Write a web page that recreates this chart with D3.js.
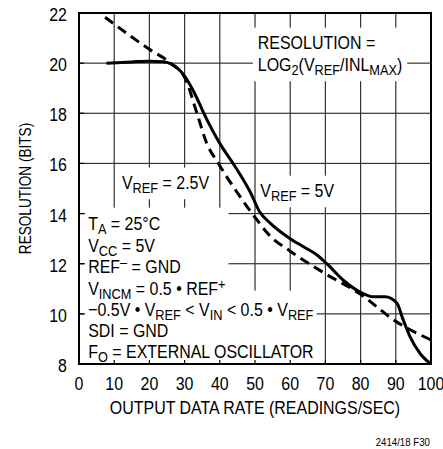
<!DOCTYPE html>
<html lang="en">
<head>
<meta charset="UTF-8">
<script src="https://d3js.org/d3.v7.min.js"></script>
</head>
<body style="margin:0">
<svg id="chart" width="443" height="449" font-family="Liberation Sans, Arial, sans-serif"></svg>
<script>
// solid curve (measured)
var solidRate = [7.8, 15, 20, 24, 26, 28, 30, 33, 35.3, 40, 44, 48.6, 51.4, 54.3, 60, 64, 67.5, 70.4, 75, 80, 83.6, 87, 90.3, 92, 94, 97, 100];
var solidBits = [20.0, 20.05, 20.08, 20.06, 19.98, 19.8, 19.48, 18.75, 18.05, 16.8, 15.95, 14.87, 14.05, 13.62, 13.0, 12.66, 12.36, 12.0, 11.35, 10.86, 10.68, 10.68, 10.43, 9.8, 9.1, 8.4, 8.0];
// dashed curve
var dashRate = [7.4, 20, 26, 30.3, 33.4, 36.3, 39.6, 44.8, 50, 54.3, 60, 70, 80, 90, 100];
var dashBits = [21.83, 20.55, 20.0, 19.35, 18.05, 16.8, 16.0, 14.87, 13.85, 13.1, 12.5, 11.6, 10.78, 9.7, 8.96];

var xTicks = [0, 10, 20, 30, 40, 50, 60, 70, 80, 90, 100];
var yTicks = [8, 10, 12, 14, 16, 18, 20, 22];

var margin = {top: 13, right: 12, bottom: 85, left: 79};
var width = 443 - margin.left - margin.right;
var height = 449 - margin.top - margin.bottom;
var narrow = 0.84;

var svg = d3.select("#chart");
var g = svg.append("g").attr("transform", "translate(" + margin.left + "," + margin.top + ")");

var x = d3.scaleLinear().domain([0, 100]).range([0, width]);
var y = d3.scaleLinear().domain([8, 22]).range([height, 0]);

// condensed text placed at px,py
function label(sel, px, py, size, sx) {
    return sel.append("text")
        .attr("transform", "translate(" + px + "," + py + ") scale(" + (sx || narrow) + ",1)")
        .attr("font-size", size);
}

// rich text helper: parts are [text, "sub"|"sup"|""]
function richText(sel, parts) {
    var shift = 0;
    parts.forEach(function (p) {
        var target = p[1] === "sub" ? 4 : p[1] === "sup" ? -6 : 0;
        var ts = sel.append("tspan").attr("dy", target - shift).text(p[0]);
        if (p[1]) ts.attr("font-size", "0.8em");
        shift = target;
    });
}

var textLayer = g.append("g");
var boxes = [];

// block of lines; its box keeps the grid away
function block(px, py, lines, step, pad) {
    var x0 = Infinity, y0 = Infinity, x1 = -Infinity, y1 = -Infinity;
    lines.forEach(function (parts, i) {
        var t = label(textLayer, px, py + i * step, 19);
        richText(t, parts);
        var b = t.node().getBBox();
        x0 = Math.min(x0, px);
        x1 = Math.max(x1, px + b.width * narrow);
        y0 = Math.min(y0, py + i * step + b.y);
        y1 = Math.max(y1, py + i * step + b.y + b.height);
    });
    boxes.push({
        x0: Math.max(0, x0 - pad[0]), x1: Math.min(width, x1 + pad[0]),
        y0: Math.max(0, y0 - pad[1]), y1: Math.min(height, y1 + pad[2])
    });
}

block(x(50.8), 36, [
    [["RESOLUTION =", ""]],
    [["LOG", ""], ["2", "sub"], ["(V", ""], ["REF", "sub"], ["/INL", ""], ["MAX", "sub"], [")", ""]]
], 22, [5, 4, 3]);

block(x(12.2), 176, [[["V", ""], ["REF", "sub"], [" = 2.5V", ""]]], 22, [4, 4, 3]);
block(x(51.5), 184, [[["V", ""], ["REF", "sub"], [" = 5V", ""]]], 22, [4, 4, 3]);

block(x(2.6), 217, [
    [["T", ""], ["A", "sub"], [" = 25°C", ""]],
    [["V", ""], ["CC", "sub"], [" = 5V", ""]],
    [["REF", ""], ["\u2013", "sup"], [" = GND", ""]],
    [["V", ""], ["INCM", "sub"], [" = 0.5 \u2022 REF", ""], ["+", "sup"]]
], 21.5, [3, 5, 3]);

block(x(2.6), 303, [
    [["\u22120.5V \u2022 V", ""], ["REF", "sub"], [" < V", ""], ["IN", "sub"], [" < 0.5 \u2022 V", ""], ["REF", "sub"]],
    [["SDI = GND", ""]],
    [["F", ""], ["O", "sub"], [" = EXTERNAL OSCILLATOR", ""]]
], 21, [3, 8, 3]);

// grid, broken where the text boxes sit; thin filled rects
function gaps(lo, hi, cuts) {
    var segs = [], cur = lo;
    cuts.sort(function (a, b) { return a[0] - b[0]; }).forEach(function (c) {
        if (c[0] > cur) segs.push([cur, c[0]]);
        cur = Math.max(cur, c[1]);
    });
    if (cur < hi) segs.push([cur, hi]);
    return segs;
}
var gridRects = [];
xTicks.slice(1, -1).forEach(function (d) {
    var X = x(d);
    var cuts = boxes.filter(function (b) { return b.x0 <= X && X <= b.x1; })
        .map(function (b) { return [b.y0, b.y1]; });
    gaps(0, height, cuts).forEach(function (s) { gridRects.push([X - 0.6, s[0], 1.2, s[1] - s[0]]); });
});
yTicks.slice(1, -1).forEach(function (d) {
    var Y = y(d);
    var cuts = boxes.filter(function (b) { return b.y0 <= Y && Y <= b.y1; })
        .map(function (b) { return [b.x0, b.x1]; });
    gaps(0, width, cuts).forEach(function (s) { gridRects.push([s[0], Y - 0.6, s[1] - s[0], 1.2]); });
});
g.append("g").selectAll("rect").data(gridRects).enter().append("rect")
    .attr("x", function (d) { return d[0]; }).attr("y", function (d) { return d[1]; })
    .attr("width", function (d) { return d[2]; }).attr("height", function (d) { return d[3]; })
    .attr("fill", "#333");

// inner ticks
g.append("g").selectAll("line").data(yTicks).enter().append("line")
    .attr("x1", 0).attr("x2", 5)
    .attr("y1", function (d) { return y(d); }).attr("y2", function (d) { return y(d); })
    .attr("stroke", "#000").attr("stroke-width", 1.2);
g.append("g").selectAll("line").data(xTicks).enter().append("line")
    .attr("x1", function (d) { return x(d); }).attr("x2", function (d) { return x(d); })
    .attr("y1", height).attr("y2", height - 4)
    .attr("stroke", "#000").attr("stroke-width", 1.2);

// curves
var line = d3.line()
    .x(function (d) { return x(d[0]); })
    .y(function (d) { return y(d[1]); })
    .curve(d3.curveMonotoneX);

g.append("path").datum(d3.zip(dashRate, dashBits))
    .attr("d", line).attr("fill", "none")
    .attr("stroke", "#000").attr("stroke-width", 3).attr("stroke-dasharray", "10,6");
g.append("path").datum(d3.zip(solidRate, solidBits))
    .attr("d", line).attr("fill", "none")
    .attr("stroke", "#000").attr("stroke-width", 3);

// frame
g.append("rect").attr("width", width).attr("height", height)
    .attr("fill", "none").attr("stroke", "#000").attr("stroke-width", 2);

// tick labels
yTicks.forEach(function (d) {
    label(g, -12, y(d) + 8, 19).attr("text-anchor", "end").text(d);
});
xTicks.forEach(function (d) {
    label(g, x(d), height + 26, 19).attr("text-anchor", "middle").text(d);
});

// axis titles
label(g, width / 2, height + 50, 19).attr("text-anchor", "middle")
    .text("OUTPUT DATA RATE (READINGS/SEC)");
g.append("text")
    .attr("transform", "translate(-48," + (height / 2) + ") rotate(-90) scale(0.8,1)")
    .attr("font-size", 17).attr("text-anchor", "middle")
    .text("RESOLUTION (BITS)");

label(svg, 430, 446, 11, 0.88).attr("text-anchor", "end").text("2414/18 F30");
</script>
</body>
</html>
